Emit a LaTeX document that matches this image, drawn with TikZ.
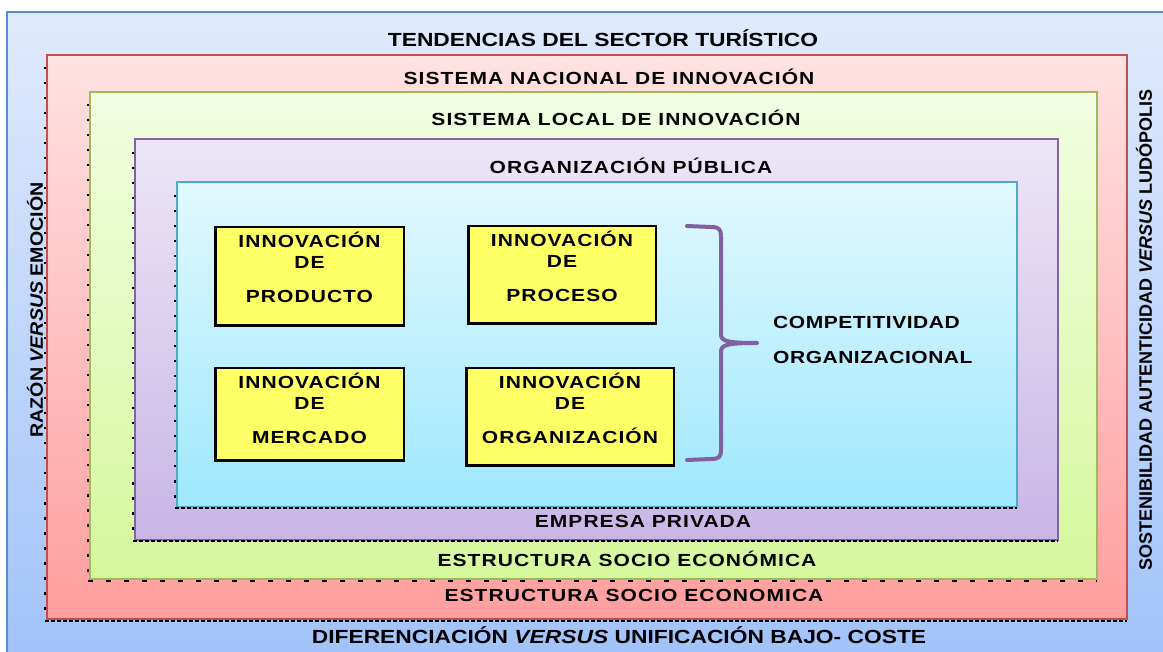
\documentclass[tikz,border=0pt]{standalone}
\usepackage{graphicx}
\usepackage{fontspec}
\setmainfont{Liberation Sans}
\newfontfamily\spaced[LetterSpace=6,FakeStretch=1.2]{Liberation Sans}
\newfontfamily\spacedc[LetterSpace=3,FakeStretch=1.2]{Liberation Sans}
\newfontfamily\wide[FakeStretch=1.2]{Liberation Sans}
\newfontfamily\wideside[FakeStretch=1.09]{Liberation Sans}
\usetikzlibrary{calc}
\definecolor{bluebd}{RGB}{84,141,212}
\definecolor{bluetop}{RGB}{224,234,253}
\definecolor{bluebot}{RGB}{160,194,250}
\definecolor{redbd}{RGB}{192,80,77}
\definecolor{redtop}{RGB}{255,226,226}
\definecolor{redbot}{RGB}{255,158,158}
\definecolor{greenbd}{RGB}{155,187,89}
\definecolor{greentop}{RGB}{242,253,226}
\definecolor{greenbot}{RGB}{213,248,156}
\definecolor{purplebd}{RGB}{128,100,162}
\definecolor{purpletop}{RGB}{237,230,247}
\definecolor{purplebot}{RGB}{200,182,230}
\definecolor{cyanbd}{RGB}{75,172,198}
\definecolor{cyantop}{RGB}{226,248,255}
\definecolor{cyanbot}{RGB}{158,232,253}
\definecolor{boxyellow}{RGB}{255,255,102}
\definecolor{bracecol}{RGB}{128,96,160}
\newcommand\innotext[2]{%
  \node[btxt] (#1-a) at ($(#1.north)+(0,21.5)$) {INNOVACIÓN};
  \node[btxt] (#1-b) at ($(#1.north)+(0,42.5)$) {DE};
  \node[btxt] (#1-c) at ($(#1.north)+(0,76.5)$) {#2};}
\begin{document}
\begin{tikzpicture}[x=1pt,y=-1pt,
  frame/.style={line width=2.5pt},
  leftdots/.style={draw=black, line width=2pt, dash pattern=on 2.5pt off 12.5pt},
  densedash/.style={draw=black, line width=1.5pt, dash pattern=on 4pt off 2pt},
  sparsedash/.style={draw=black, line width=1.5pt, dash pattern=on 5pt off 13pt},
  ybox/.style={draw=black, line width=2.5pt, fill=boxyellow, inner sep=0pt},
  btxt/.style={anchor=base, inner sep=0pt, font=\spaced\bfseries\fontsize{17.5}{20}\selectfont},
  slbl/.style={anchor=base, inner sep=0pt, font=\spaced\bfseries\fontsize{17.5}{20}\selectfont},
  olbl/.style={anchor=base, inner sep=0pt, font=\wide\bfseries\fontsize{19}{22}\selectfont},
  clbl/.style={anchor=base west, inner sep=0pt, font=\spacedc\bfseries\fontsize{17.5}{20}\selectfont},
  bracestyle/.style={draw=bracecol, line width=4pt, line join=round, line cap=round}]
\useasboundingbox (0,0) rectangle (1163,652);
\clip (0,0) rectangle (1163,652);
% frames
\path[draw=bluebd, line width=1.5pt, top color=bluetop, bottom color=bluebot] (7,12) rectangle (1180,670);
\path[frame, draw=redbd, top color=redtop, bottom color=redbot] (47,55) rectangle (1127,619);
\path[frame, draw=greenbd, top color=greentop, bottom color=greenbot] (90,92) rectangle (1097,579);
\path[frame, draw=purplebd, top color=purpletop, bottom color=purplebot] (135,139) rectangle (1058,540);
\path[line width=2pt, draw=cyanbd, top color=cyantop, bottom color=cyanbot] (177,182) rectangle (1017,507);
% dashed shadows
\draw[leftdots] (45,67) -- (45,621);
\draw[densedash] (45,621) -- (1127,621);
\draw[leftdots] (88,104) -- (88,581);
\draw[sparsedash] (88,581) -- (1097,581);
\draw[leftdots] (133,152) -- (133,541);
\draw[densedash] (133,541) -- (1058,541);
\draw[leftdots] (175,195) -- (175,508);
\draw[densedash] (175,508) -- (1017,508);
% frame labels
\node[olbl] (tend) at (603,47) {TENDENCIAS DEL SECTOR TURÍSTICO};
\node[slbl] (nac) at (609,84.5) {SISTEMA NACIONAL DE INNOVACIÓN};
\node[slbl] (loc) at (616,125.5) {SISTEMA LOCAL DE INNOVACIÓN};
\node[slbl] (pub) at (631,173.5) {ORGANIZACIÓN PÚBLICA};
\node[slbl] (priv) at (643,527.5) {EMPRESA PRIVADA};
\node[slbl] (est1) at (627,566.5) {ESTRUCTURA SOCIO ECONÓMICA};
\node[slbl] (est2) at (634,601.5) {ESTRUCTURA SOCIO ECONOMICA};
\node[olbl] (dif) at (619,643) {DIFERENCIACIÓN \textit{VERSUS} UNIFICACIÓN BAJO- COSTE};
\node[inner sep=0pt, rotate=90, font=\wideside\bfseries\fontsize{18}{22}\selectfont] (raz) at (35,310) {RAZÓN \textit{VERSUS} EMOCIÓN};
\node[inner sep=0pt, rotate=90, font=\bfseries\fontsize{18}{22}\selectfont] (sost) at (1144,330) {SOSTENIBILIDAD AUTENTICIDAD \textit{VERSUS} LUDÓPOLIS};
% innovation boxes
\node[ybox, minimum width=188.5pt, minimum height=98.5pt] (b1) at (309.5,276.5) {};
\node[ybox, minimum width=187.5pt, minimum height=97.5pt] (b2) at (562,275) {};
\node[ybox, minimum width=188.5pt, minimum height=92.5pt] (b3) at (309.5,414.5) {};
\node[ybox, minimum width=207.5pt, minimum height=97.5pt] (b4) at (570,417) {};
\innotext{b1}{PRODUCTO}
\innotext{b2}{PROCESO}
\innotext{b3}{MERCADO}
\innotext{b4}{ORGANIZACIÓN}
% brace
\draw[bracestyle] (687,226) -- (711,227) .. controls (719,227) and (721,229) .. (721,237) -- (721,334) .. controls (721,341) and (726,343) .. (757,343) .. controls (726,343) and (721,345) .. (721,352) -- (721,450) .. controls (721,457) and (719,459) .. (711,459) -- (687,460);
\node[clbl] (comp) at (773,328.5) {COMPETITIVIDAD};
\node[clbl] (org) at (773,363.5) {ORGANIZACIONAL};
\end{tikzpicture}
\end{document}
